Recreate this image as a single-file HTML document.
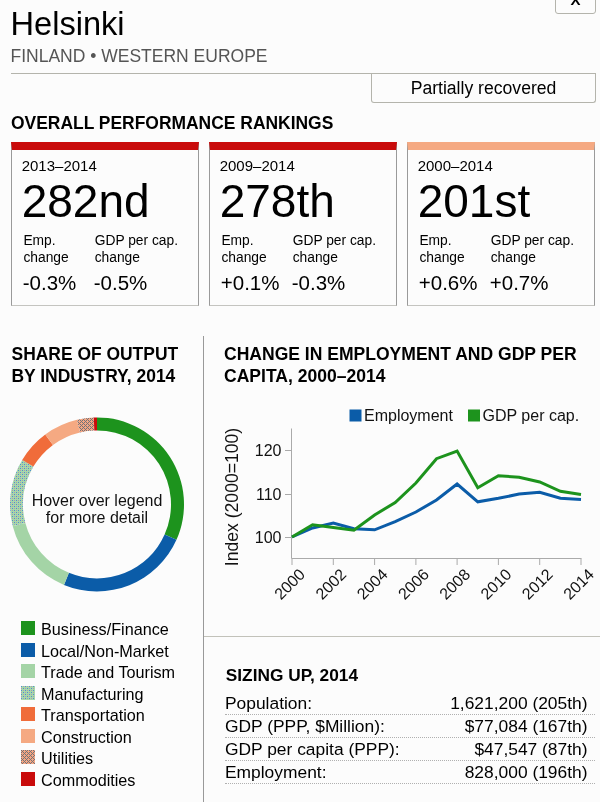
<!DOCTYPE html>
<html><head><meta charset="utf-8">
<style>
html,body{margin:0;padding:0;background:#fcfcfc;}
body{width:600px;height:802px;position:relative;overflow:hidden;font-family:"Liberation Sans",Arial,sans-serif;color:#000;}
.a{position:absolute;white-space:nowrap;line-height:1;}
#title{left:10.5px;top:7.9px;font-size:32.6px;}
#sub{left:10.5px;top:47.9px;font-size:17.5px;color:#555;}
#hline{left:11px;top:73px;width:585px;height:1px;background:#b4b4ac;}
#status{left:371px;top:73px;width:223px;height:29px;border:1px solid #b4b4ac;border-top:none;border-radius:0 0 3px 3px;}
#statustxt{left:371px;top:79.9px;width:225px;text-align:center;font-size:17.6px;}
#xbox{left:555px;top:-30px;width:39px;height:42px;border:1px solid #b4b4ac;border-radius:0 0 3px 3px;}
#xtxt{left:555px;top:-8.2px;width:41px;text-align:center;font-size:15px;font-weight:bold;}
.h{font-weight:bold;font-size:17.45px;}
.card{position:absolute;top:142px;width:186px;height:155px;border:1px solid #9a9a9a;border-bottom-color:#c4c4c0;border-top:8px solid #c90b0b;}
.card .yr{position:absolute;left:9.7px;top:8px;font-size:15px;line-height:1;}
.card .rk{position:absolute;left:9.7px;top:27.8px;font-size:46px;line-height:1;}
.card .l1{position:absolute;top:83.4px;font-size:13.8px;line-height:16.5px;}
.card .v{position:absolute;top:122.85px;font-size:20.5px;line-height:1;}
.vl{left:203px;top:336px;width:1px;height:470px;background:#999;}
.sw{position:absolute;left:21px;width:14px;height:14px;}
.lg{position:absolute;left:41px;font-size:16.2px;line-height:1;}
.row{position:absolute;left:225px;width:370px;height:20px;border-bottom:1px dotted #b0b0b0;font-size:17.4px;}
.row span{position:absolute;top:0.6px;line-height:1;}
.row .r{right:7.5px;}
</style></head><body>
<div class="a" id="title">Helsinki</div>
<div class="a" id="sub">FINLAND • WESTERN EUROPE</div>
<div class="a" id="hline"></div>
<div class="a" id="status"></div>
<div class="a" id="statustxt">Partially recovered</div>
<div class="a" id="xbox"></div>
<div class="a" id="xtxt">X</div>

<div class="a h" style="left:11px;top:114.8px;">OVERALL PERFORMANCE RANKINGS</div>

<div class="card" style="left:11px;">
  <div class="yr">2013–2014</div>
  <div class="rk">282nd</div>
  <div class="l1" style="left:11.4px;">Emp.<br>change</div>
  <div class="l1" style="left:82.7px;">GDP per cap.<br>change</div>
  <div class="v" style="left:10.8px;">-0.3%</div>
  <div class="v" style="left:81.8px;">-0.5%</div>
</div>
<div class="card" style="left:209px;">
  <div class="yr">2009–2014</div>
  <div class="rk">278th</div>
  <div class="l1" style="left:11.4px;">Emp.<br>change</div>
  <div class="l1" style="left:82.7px;">GDP per cap.<br>change</div>
  <div class="v" style="left:10.8px;">+0.1%</div>
  <div class="v" style="left:81.8px;">-0.3%</div>
</div>
<div class="card" style="left:407px;border-top-color:#f5a982;">
  <div class="yr">2000–2014</div>
  <div class="rk">201st</div>
  <div class="l1" style="left:11.4px;">Emp.<br>change</div>
  <div class="l1" style="left:82.7px;">GDP per cap.<br>change</div>
  <div class="v" style="left:10.8px;">+0.6%</div>
  <div class="v" style="left:81.8px;">+0.7%</div>
</div>

<div class="a h" style="left:11.5px;top:342.8px;line-height:22.5px;">SHARE OF OUTPUT<br>BY INDUSTRY, 2014</div>
<div class="a vl"></div>
<div class="a" style="left:204px;top:636px;width:397px;height:1px;background:#c2c2ba;"></div>
<div class="a h" style="left:224px;top:342.6px;line-height:22.5px;font-size:17.55px;">CHANGE IN EMPLOYMENT AND GDP PER<br>CAPITA, 2000–2014</div>

<svg width="0" height="0" style="position:absolute"><defs>
<pattern id="pm" patternUnits="userSpaceOnUse" width="4" height="4"><rect width="4" height="4" fill="#a8d8aa"/><rect x="0" y="0" width="1" height="1" fill="#4f8fcf"/><rect x="2" y="2" width="1" height="1" fill="#4f8fcf"/><rect x="2" y="0" width="1" height="1" fill="#a99aae"/><rect x="0" y="2" width="1" height="1" fill="#a99aae"/></pattern>
<pattern id="pu" patternUnits="userSpaceOnUse" width="4" height="4"><rect width="4" height="4" fill="#f4a582"/><rect x="0" y="0" width="1" height="1" fill="#737378"/><rect x="2" y="0" width="1" height="1" fill="#737378"/><rect x="1" y="1" width="1" height="1" fill="#737378"/><rect x="0" y="2" width="1" height="1" fill="#737378"/><rect x="2" y="2" width="1" height="1" fill="#737378"/><rect x="3" y="3" width="1" height="1" fill="#737378"/></pattern>
</defs></svg>
<!-- donut -->
<svg class="a" style="left:0;top:410px;" width="200" height="190" viewBox="0 410 200 190">
  <g id="donut">
  <path d="M97.00,417.40A87,87 0 0 1 176.48,539.79L164.60,534.50A74,74 0 0 0 97.00,430.40Z" fill="#1d931d"/>
  <path d="M176.48,539.79A87,87 0 0 1 63.99,584.89L68.92,572.87A74,74 0 0 0 164.60,534.50Z" fill="#0b5ca8"/>
  <path d="M63.99,584.89A87,87 0 0 1 12.77,526.18L25.36,522.93A74,74 0 0 0 68.92,572.87Z" fill="#a4d4a6"/>
  <path d="M12.77,526.18A87,87 0 0 1 22.19,459.98L33.37,466.62A74,74 0 0 0 25.36,522.93Z" fill="url(#pm)"/>
  <path d="M22.19,459.98A87,87 0 0 1 45.25,434.46L52.98,444.91A74,74 0 0 0 33.37,466.62Z" fill="#f06c3a"/>
  <path d="M45.25,434.46A87,87 0 0 1 76.99,419.73L79.98,432.38A74,74 0 0 0 52.98,444.91Z" fill="#f5a982"/>
  <path d="M76.99,419.73A87,87 0 0 1 93.81,417.46L94.29,430.45A74,74 0 0 0 79.98,432.38Z" fill="url(#pu)"/>
  <path d="M93.81,417.46A87,87 0 0 1 97.00,417.40L97.00,430.40A74,74 0 0 0 94.29,430.45Z" fill="#c90b0b"/>
  </g>
  <text x="97" y="506.1" text-anchor="middle" font-size="16" fill="#111">Hover over legend</text>
  <text x="97" y="523.1" text-anchor="middle" font-size="16" fill="#111">for more detail</text>
</svg>

<!-- legend -->
<div class="sw" style="top:621px;background:#1d931d;"></div><div class="lg" style="top:621px;">Business/Finance</div>
<div class="sw" style="top:643px;background:#0b5ca8;"></div><div class="lg" style="top:643px;">Local/Non-Market</div>
<div class="sw" style="top:664px;background:#a4d4a6;"></div><div class="lg" style="top:664px;">Trade and Tourism</div>
<svg class="sw" style="top:686px;" width="14" height="14"><rect width="14" height="14" fill="url(#pm)"/></svg><div class="lg" style="top:686px;">Manufacturing</div>
<div class="sw" style="top:707px;background:#f06c3a;"></div><div class="lg" style="top:707px;">Transportation</div>
<div class="sw" style="top:729px;background:#f5a982;"></div><div class="lg" style="top:729px;">Construction</div>
<svg class="sw" style="top:750px;" width="14" height="14"><rect width="14" height="14" fill="url(#pu)"/></svg><div class="lg" style="top:750px;">Utilities</div>
<div class="sw" style="top:772px;background:#c90b0b;"></div><div class="lg" style="top:772px;">Commodities</div>

<!-- line chart -->
<svg class="a" style="left:200px;top:395px;" width="400" height="215" viewBox="200 395 400 215" font-family="Liberation Sans, Arial, sans-serif">
  <rect x="349.5" y="409.5" width="12" height="12" fill="#0b5ca8"/>
  <text x="364" y="421" font-size="16" fill="#111">Employment</text>
  <rect x="468" y="409.5" width="12" height="12" fill="#1d931d"/>
  <text x="482.5" y="421" font-size="16" fill="#111">GDP per cap.</text>
  <g stroke="#aaa" stroke-width="1" fill="none">
    <path d="M291.5,428.5V558.5H581.5"/>
    <path d="M285,450.5H291.5M285,494.5H291.5M285,537.5H291.5"/>
  </g>
  <g font-size="16" fill="#111" text-anchor="end">
    <text x="281.5" y="455.8">120</text>
    <text x="281.5" y="499.8">110</text>
    <text x="281.5" y="542.8">100</text>
  </g>
  <text transform="translate(238,497) rotate(-90)" text-anchor="middle" font-size="17.6" fill="#111">Index (2000=100)</text>
  <g id="xt">
  <path d="M292.0,558.5V565" stroke="#aaa"/>
  <text transform="translate(293.5,588) rotate(-45)" text-anchor="middle" font-size="16" fill="#111">2000</text>
  <path d="M333.3,558.5V565" stroke="#aaa"/>
  <text transform="translate(334.8,588) rotate(-45)" text-anchor="middle" font-size="16" fill="#111">2002</text>
  <path d="M374.6,558.5V565" stroke="#aaa"/>
  <text transform="translate(376.1,588) rotate(-45)" text-anchor="middle" font-size="16" fill="#111">2004</text>
  <path d="M415.9,558.5V565" stroke="#aaa"/>
  <text transform="translate(417.4,588) rotate(-45)" text-anchor="middle" font-size="16" fill="#111">2006</text>
  <path d="M457.1,558.5V565" stroke="#aaa"/>
  <text transform="translate(458.6,588) rotate(-45)" text-anchor="middle" font-size="16" fill="#111">2008</text>
  <path d="M498.4,558.5V565" stroke="#aaa"/>
  <text transform="translate(499.9,588) rotate(-45)" text-anchor="middle" font-size="16" fill="#111">2010</text>
  <path d="M539.7,558.5V565" stroke="#aaa"/>
  <text transform="translate(541.2,588) rotate(-45)" text-anchor="middle" font-size="16" fill="#111">2012</text>
  <path d="M581.0,558.5V565" stroke="#aaa"/>
  <text transform="translate(582.5,588) rotate(-45)" text-anchor="middle" font-size="16" fill="#111">2014</text>
  </g>
  <polyline id="emp" points="292.0,537 312.6,528 333.3,523 353.9,528.7 374.6,529.8 395.2,521.7 415.9,512 436.5,500 457.1,484 477.8,501.8 498.4,498.3 519.1,494.1 539.7,492.3 560.4,498.3 581.0,499.5" fill="none" stroke="#0b5ca8" stroke-width="3" stroke-linejoin="miter"/>
  <polyline id="gdp" points="292.0,537 312.6,524.7 333.3,527.5 353.9,530.3 374.6,515 395.2,502.5 415.9,483 436.5,458.7 457.1,451 477.8,487.8 498.4,475.7 519.1,477.3 539.7,482 560.4,491.3 581.0,494.4" fill="none" stroke="#1d931d" stroke-width="3" stroke-linejoin="miter"/>
</svg>

<div class="a h" style="left:225.8px;top:667.1px;font-size:17.3px;">SIZING UP, 2014</div>
<div class="row" style="top:694px;"><span style="left:0">Population:</span><span class="r">1,621,200 (205th)</span></div>
<div class="row" style="top:717px;"><span style="left:0">GDP (PPP, $Million):</span><span class="r">$77,084 (167th)</span></div>
<div class="row" style="top:740px;"><span style="left:0">GDP per capita (PPP):</span><span class="r">$47,547 (87th)</span></div>
<div class="row" style="top:763px;"><span style="left:0">Employment:</span><span class="r">828,000 (196th)</span></div>
</body></html>
